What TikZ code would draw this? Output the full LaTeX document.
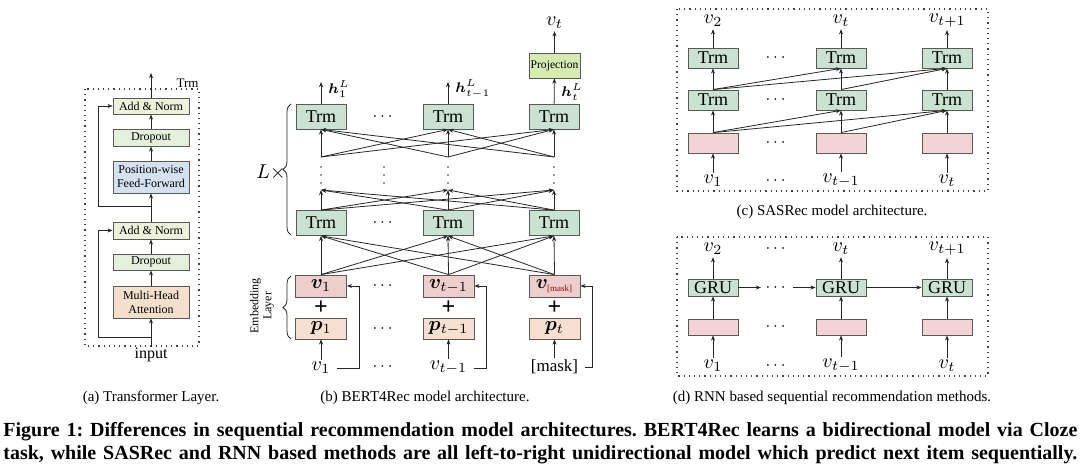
\documentclass[tikz,border=0pt]{standalone}
\usepackage{fontspec}
\setmainfont{Liberation Serif}
\usepackage{amsmath,bm}
\usetikzlibrary{arrows.meta,decorations.pathreplacing,calc}
\definecolor{trmc}{RGB}{201,226,210}
\definecolor{projc}{RGB}{214,235,178}
\definecolor{pinkc}{RGB}{242,212,214}
\definecolor{vc}{RGB}{236,207,205}
\definecolor{pc}{RGB}{246,223,207}
\definecolor{anc}{RGB}{238,241,218}
\definecolor{doc}{RGB}{229,240,220}
\definecolor{ffc}{RGB}{211,225,241}
\definecolor{mhac}{RGB}{243,223,203}
\begin{document}
\begin{tikzpicture}[x=0.5pt,y=-0.5pt,
  arr/.style={-{Stealth[length=2.6pt,width=2pt]}, line width=0.4pt, draw=black!85},
  ln/.style={line width=0.4pt, draw=black!85},
  frame/.style={dotted, line width=0.6pt, draw=black!75},
  bx/.style={draw=black!65, line width=0.4pt, inner sep=0pt, align=center},
  abox/.style={bx, minimum width=38pt, font=\fontsize{6}{7}\selectfont},
  trmb/.style={bx, fill=trmc, minimum width=25pt, minimum height=12.5pt, font=\fontsize{9}{10}\selectfont},
  trmc/.style={bx, fill=trmc, minimum width=25pt, minimum height=10pt, font=\fontsize{9}{10}\selectfont},
  grub/.style={bx, fill=trmc, minimum width=25pt, minimum height=8.5pt, font=\fontsize{9}{10}\selectfont},
  pinkb/.style={bx, fill=pinkc, minimum width=25pt, minimum height=10pt},
  pinkd/.style={bx, fill=pinkc, minimum width=25pt, minimum height=8pt},
  vbox/.style={bx, fill=vc, minimum width=25.5pt, minimum height=11pt, font=\fontsize{10}{11}\selectfont},
  pbox/.style={bx, fill=pc, minimum width=25.5pt, minimum height=10.5pt, font=\fontsize{10}{11}\selectfont},
  lbl/.style={inner sep=1pt, font=\fontsize{10}{11}\selectfont},
  hlbl/.style={inner sep=0pt, anchor=west, font=\fontsize{7}{8}\selectfont},
  dts/.style={inner sep=0pt, font=\fontsize{8}{9}\selectfont},
  subcap/.style={inner sep=0pt, font=\fontsize{7.5}{9}\selectfont},
  capl/.style={inner sep=0pt, anchor=west, font=\fontsize{10}{11}\selectfont\bfseries\frenchspacing}
]
\useasboundingbox (0,0) rectangle (1080,474);

% ---------------- (a) Transformer layer ----------------
\draw[frame] (85,89) rectangle (199,346);
\node[inner sep=0.5pt, anchor=south east, font=\fontsize{6.5}{7}\selectfont] (trmlab) at (200,89) {Trm};
\node[abox, fill=anc, minimum height=8pt] (an2) at (151,106) {Add \& Norm};
\node[abox, fill=doc, minimum height=8.5pt] (do2) at (151,137.5) {Dropout};
\node[abox, fill=ffc, minimum height=16pt] (ff) at (151,177) {Position-wise\\Feed-Forward};
\node[abox, fill=anc, minimum height=8.5pt] (an1) at (151,230.5) {Add \& Norm};
\node[abox, fill=doc, minimum height=8pt] (do1) at (151,262) {Dropout};
\node[abox, fill=mhac, minimum height=16pt] (mha) at (151,302) {Multi-Head\\Attention};
\node[inner sep=0.5pt, font=\fontsize{8}{9}\selectfont] (inp) at (151,355) {input};
\coordinate (aout) at (151,73);
\coordinate (r1) at (151,337);
\coordinate (r1l) at (98,337);
\coordinate (r2) at (151,206);
\coordinate (r2l) at (98,206);
\draw[arr] (inp) -- (mha);
\draw[arr] (mha) -- (do1);
\draw[arr] (do1) -- (an1);
\draw[arr] (an1) -- (ff);
\draw[arr] (ff) -- (do2);
\draw[arr] (do2) -- (an2);
\draw[arr] (an2) -- (aout);
\draw[arr] (r1) -- (r1l) |- (an1.west);
\draw[arr] (r2) -- (r2l) |- (an2.west);
\node[subcap] (capa) at (151,398) {(a) Transformer Layer.};

% ---------------- (b) BERT4Rec ----------------
\node[trmb] (t1) at (321,116.5) {Trm};
\node[trmb] (t2) at (448,116.5) {Trm};
\node[trmb] (t3) at (554,116.5) {Trm};
\node[trmb] (l1) at (321,223) {Trm};
\node[trmb] (l2) at (448,223) {Trm};
\node[trmb] (l3) at (554,223) {Trm};
\node[vbox] (e1) at (321,286) {$\bm{v}_1$};
\node[vbox] (e2) at (448.5,286) {$\bm{v}_{t-1}$};
\node[vbox] (e3) at (554.5,286) {$\bm{v}_{\scalebox{0.45}{\color{red!60!black}[mask]}}$};
\node[pbox] (q1) at (321,328.5) {$\bm{p}_1$};
\node[pbox] (q2) at (448.5,328.5) {$\bm{p}_{t-1}$};
\node[pbox] (q3) at (554.5,328.5) {$\bm{p}_t$};
\node[inner sep=0pt, font=\fontsize{12}{12}\selectfont\bfseries] (pl1) at (321,308) {+};
\node[inner sep=0pt, font=\fontsize{12}{12}\selectfont\bfseries] (pl2) at (448.5,308) {+};
\node[inner sep=0pt, font=\fontsize{12}{12}\selectfont\bfseries] (pl3) at (554.5,308) {+};
\node[lbl] (i1) at (321,368) {$v_1$};
\node[lbl] (i2) at (448.5,368) {$v_{t-1}$};
\node[inner sep=1pt, font=\fontsize{8.5}{9}\selectfont] (i3) at (554.5,367) {[mask]};
\draw[arr] (i1) -- (q1);
\draw[arr] (i2) -- (q2);
\draw[arr] (i3) -- (q3);
\coordinate (f1) at (359,286);
\coordinate (f2) at (486,286);
\coordinate (f3) at (592,286);
\draw[arr] ([xshift=2pt]i1.east) -| (f1) -- (e1.east);
\draw[arr] ([xshift=2pt]i2.east) -| (f2) -- (e2.east);
\draw[arr] ([xshift=2pt]i3.east) -| (f3) -- (e3.east);
% embedding -> lower Trm
\foreach \i in {1,2,3}{\foreach \j in {1,2,3}{\draw[arr] (e\i.north) -- (l\j.south);}}
% lower Trm -> upper stubs
\coordinate (u1) at (321,190); \coordinate (u2) at (448,190); \coordinate (u3) at (554,190);
\coordinate (d1) at (321,157); \coordinate (d2) at (448,157); \coordinate (d3) at (554,157);
\foreach \i in {1,2,3}{\foreach \j in {1,2,3}{\draw[arr] (l\i.north) -- (u\j);}}
\foreach \i in {1,2,3}{\foreach \j in {1,2,3}{\draw[arr] (d\i) -- (t\j.south);}}
\foreach \x in {321,384,448,554}{\foreach \y in {167,175,183}{\fill[black!80] (\x,\y) circle (0.45pt);}}
% outputs
\node[bx, fill=projc, minimum width=25.5pt, minimum height=12.5pt, font=\fontsize{5.8}{7}\selectfont] (pr) at (554.5,65.5) {Projection};
\node[lbl] (vt) at (554.5,23) {$v_t$};
\coordinate (h1) at (321,82);
\coordinate (h2) at (448,82);
\draw[arr] (t1) -- (h1);
\draw[arr] (t2) -- (h2);
\draw[arr] (t3) -- (pr);
\draw[arr] (pr) -- (vt);
\node[hlbl] (h1l) at (328,89) {$\bm{h}_1^L$};
\node[hlbl] (h2l) at (455,89) {$\bm{h}_{t-1}^L$};
\node[hlbl] (h3l) at (561,92) {$\bm{h}_t^L$};
% dots
\node[dts] (cb1) at (384,116.5) {$\cdots$};
\node[dts] (cb2) at (384,223) {$\cdots$};
\node[dts] (cb3) at (384,286) {$\cdots$};
\node[dts] (cb4) at (384,328.5) {$\cdots$};
\node[dts] (cb5) at (384,367) {$\cdots$};
% braces
\draw[ln, decorate, decoration={brace, amplitude=4pt}] (291,235) -- (291,104);
\node[inner sep=0pt, font=\fontsize{10}{11}\selectfont] (Lx) at (271,173) {$L\times$};
\draw[ln, decorate, decoration={brace, amplitude=4pt}] (291,339) -- (291,276);
\node[inner sep=0pt, rotate=90, align=center, font=\fontsize{6}{6.5}\selectfont] (emb) at (262,306) {Embedding\\Layer};
\node[subcap] (capb) at (425,398) {(b) BERT4Rec model architecture.};

% ---------------- (c) SASRec ----------------
\draw[frame] (677,9) rectangle (988,191);
\node[lbl] (co1) at (713,21) {$v_2$};
\node[lbl] (co2) at (841,21) {$v_t$};
\node[lbl] (co3) at (947,21) {$v_{t+1}$};
\node[trmc] (ct1) at (713,58) {Trm};
\node[trmc] (ct2) at (841,58) {Trm};
\node[trmc] (ct3) at (947,58) {Trm};
\node[trmc] (cm1) at (713,100) {Trm};
\node[trmc] (cm2) at (841,100) {Trm};
\node[trmc] (cm3) at (947,100) {Trm};
\node[pinkb] (cp1) at (713,143) {};
\node[pinkb] (cp2) at (841,143) {};
\node[pinkb] (cp3) at (947,143) {};
\node[lbl] (ci1) at (713,181) {$v_1$};
\node[lbl] (ci2) at (841,181) {$v_{t-1}$};
\node[lbl] (ci3) at (947,181) {$v_t$};
\foreach \i in {1,2,3}{
  \draw[arr] (ci\i) -- (cp\i);
  \draw[arr] (cp\i) -- (cm\i);
  \draw[arr] (cm\i) -- (ct\i);
  \draw[arr] (ct\i) -- (co\i);
}
\draw[arr] (cp1.north) -- (cm2.south);
\draw[arr] (cp1.north) -- (cm3.south);
\draw[arr] (cp2.north) -- (cm3.south);
\draw[arr] (cm1.north) -- (ct2.south);
\draw[arr] (cm1.north) -- (ct3.south);
\draw[arr] (cm2.north) -- (ct3.south);
\node[dts] (cc1) at (777,58) {$\cdots$};
\node[dts] (cc2) at (777,100) {$\cdots$};
\node[dts] (cc3) at (777,143) {$\cdots$};
\node[dts] (cc4) at (777,181) {$\cdots$};
\node[subcap] (capc) at (832,212) {(c) SASRec model architecture.};

% ---------------- (d) RNN ----------------
\draw[frame] (677,237) rectangle (988,376);
\node[lbl] (do1r) at (713,249) {$v_2$};
\node[lbl] (do2r) at (841,249) {$v_t$};
\node[lbl] (do3r) at (947,249) {$v_{t+1}$};
\node[grub] (g1) at (713,287.5) {GRU};
\node[grub] (g2) at (841,287.5) {GRU};
\node[grub] (g3) at (947,287.5) {GRU};
\node[pinkd] (dp1) at (713,327) {};
\node[pinkd] (dp2) at (841,327) {};
\node[pinkd] (dp3) at (947,327) {};
\node[lbl] (di1) at (713,366) {$v_1$};
\node[lbl] (di2) at (841,366) {$v_{t-1}$};
\node[lbl] (di3) at (947,366) {$v_t$};
\foreach \i in {1,2,3}{
  \draw[arr] (di\i) -- (dp\i);
  \draw[arr] (dp\i) -- (g\i);
  \draw[arr] (g\i) -- (do\i r);
}
\coordinate (ga) at (761,287.5);
\coordinate (gb) at (793,287.5);
\draw[arr] (g1.east) -- (ga);
\draw[arr] (gb) -- (g2.west);
\draw[arr] (g2.east) -- (g3.west);
\node[dts] (dc1) at (777,249) {$\cdots$};
\node[dts] (dc2) at (777,287.5) {$\cdots$};
\node[dts] (dc3) at (777,327) {$\cdots$};
\node[dts] (dc4) at (777,366) {$\cdots$};
\node[subcap] (capd) at (832,398) {(d) RNN based sequential recommendation methods.};

% ---------------- main caption ----------------
\node[capl] (cap1) at (3,432) {\hbox to 537pt{Figure 1: Differences in sequential recommendation model architectures. BERT4Rec learns a bidirectional model via Cloze}};
\node[capl] (cap2) at (3,455) {\hbox to 537pt{task, while SASRec and RNN based methods are all left-to-right unidirectional model which predict next item sequentially.}};
\end{tikzpicture}
\end{document}
